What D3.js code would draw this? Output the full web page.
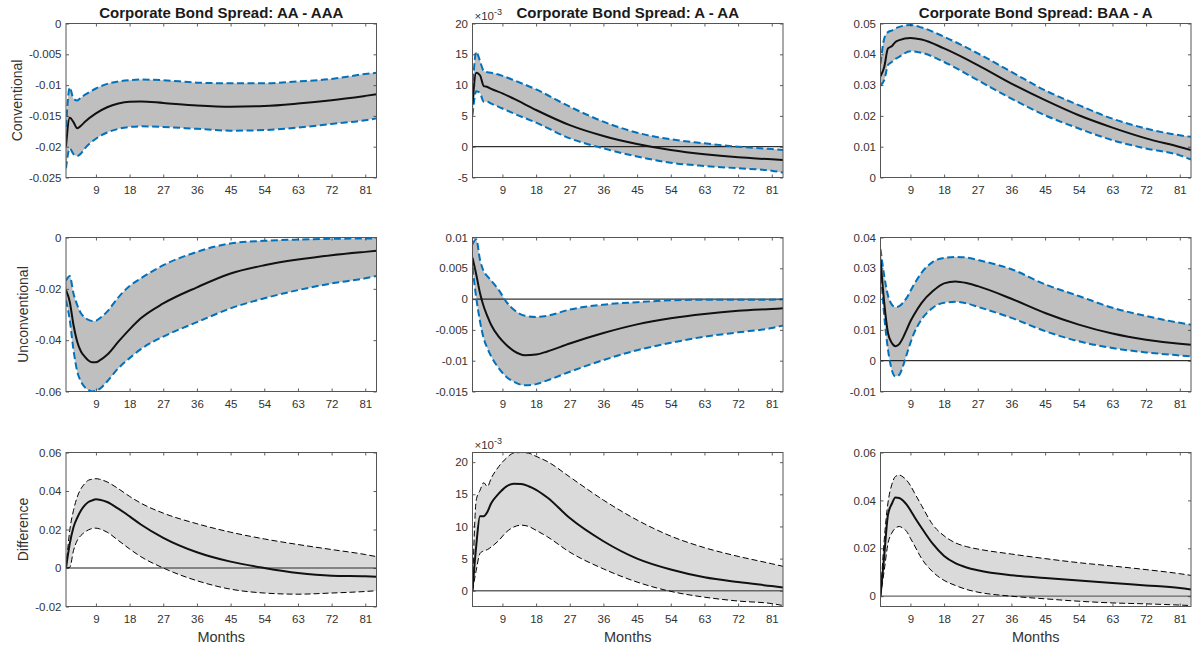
<!DOCTYPE html>
<html>
<head>
<meta charset="utf-8">
<script src="https://cdn.jsdelivr.net/npm/d3@7"></script>
<style>
  body { margin: 0; background: #fff; }
  svg { display: block; }
  text { font-family: "Liberation Sans", Arial, Helvetica, sans-serif; }
</style>
</head>
<body>
<div id="chart"></div>
<script>
// columns / rows
var titles = ["Corporate Bond Spread: AA - AAA", "Corporate Bond Spread: A - AA", "Corporate Bond Spread: BAA - A"];
var rowLabels = ["Conventional", "Unconventional", "Difference"];
var xTicks = [9, 18, 27, 36, 45, 54, 63, 72, 81];
var xLimits = [1, 84];

// Row 1: conventional
var convAAMonths = [1, 2, 3, 4, 5, 6, 9, 12, 15, 18, 21, 27, 36, 45, 54, 63, 72, 81, 84];
var convAAMean = [-0.0200, -0.0153, -0.0160, -0.0170, -0.0166, -0.0160, -0.0146, -0.0136, -0.0130, -0.0127, -0.01265, -0.0129, -0.0133, -0.0135, -0.0134, -0.0130, -0.01245, -0.01175, -0.0115];
var convAAHi = [-0.0168, -0.0104, -0.0122, -0.0125, -0.0120, -0.0116, -0.01055, -0.0098, -0.0094, -0.0092, -0.0091, -0.0092, -0.0096, -0.0097, -0.0097, -0.0094, -0.0090, -0.0082, -0.0080];
var convAALo = [-0.0235, -0.0203, -0.0212, -0.0215, -0.0211, -0.0203, -0.0187, -0.0177, -0.0171, -0.0168, -0.0167, -0.0168, -0.0171, -0.0174, -0.0173, -0.0169, -0.0163, -0.0157, -0.0154];
var convAATicks = [-0.025, -0.02, -0.015, -0.01, -0.005, 0];
var convAALimits = [-0.025, 0];

var convAMonths = [1, 2, 3, 4, 5, 6, 9, 12, 18, 27, 36, 45, 54, 63, 72, 81, 84];
var convAMean = [0.0069, 0.0120, 0.0116, 0.00985, 0.0097, 0.0094, 0.00866, 0.0078, 0.00596, 0.0035, 0.00174, 0.00044, -0.00054, -0.00124, -0.00173, -0.00205, -0.00216];
var convAHi = [0.0090, 0.0154, 0.0139, 0.0123, 0.0121, 0.0120, 0.0115, 0.0108, 0.0093, 0.0065, 0.00406, 0.00227, 0.0012, 0.00055, 0.0, -0.00038, -0.00054];
var convALo = [0.0051, 0.0090, 0.0087, 0.0073, 0.0073, 0.0070, 0.0062, 0.0054, 0.0039, 0.00136, -0.00027, -0.0016, -0.0026, -0.00313, -0.0035, -0.0039, -0.0042];
var convATicks = [-0.005, 0, 0.005, 0.01, 0.015, 0.02];
var convALimits = [-0.005, 0.02];

var convBMonths = [1, 2, 3, 4, 5, 6, 9, 12, 18, 27, 36, 45, 54, 63, 72, 81, 84];
var convBMean = [0.0329, 0.0359, 0.0419, 0.0426, 0.0440, 0.0446, 0.0453, 0.0448, 0.0419, 0.0365, 0.0305, 0.0251, 0.0202, 0.0162, 0.0127, 0.0099, 0.0089];
var convBHi = [0.0370, 0.0451, 0.0472, 0.0477, 0.0484, 0.0489, 0.0495, 0.0487, 0.0457, 0.0403, 0.0343, 0.0283, 0.0235, 0.0191, 0.0159, 0.0137, 0.0132];
var convBLo = [0.0300, 0.0316, 0.0365, 0.0375, 0.0385, 0.0392, 0.0410, 0.0405, 0.0375, 0.0316, 0.0256, 0.0202, 0.0159, 0.0121, 0.0094, 0.0072, 0.0058];
var convBTicks = [0, 0.01, 0.02, 0.03, 0.04, 0.05];
var convBLimits = [0, 0.05];

// Row 2: unconventional
var unconvAAMonths = [1, 2, 3, 4, 5, 6, 7, 8, 9, 10, 12, 15, 18, 21, 27, 36, 45, 54, 63, 72, 81, 84];
var unconvAAMean = [-0.0205, -0.0250, -0.0341, -0.0406, -0.0444, -0.0464, -0.0479, -0.0486, -0.0486, -0.0479, -0.0457, -0.0406, -0.0358, -0.0315, -0.0257, -0.0194, -0.0140, -0.0108, -0.0086, -0.0069, -0.0056, -0.0052];
var unconvAAHi = [-0.0168, -0.0150, -0.0218, -0.0263, -0.0295, -0.0311, -0.0321, -0.0325, -0.0324, -0.0315, -0.0289, -0.0233, -0.0189, -0.0159, -0.0108, -0.0056, -0.0023, -0.0013, -0.0008, -0.0005, -0.0004, -0.0004];
var unconvAALo = [-0.0244, -0.0321, -0.0438, -0.0522, -0.0561, -0.0583, -0.0594, -0.0600, -0.0597, -0.0590, -0.0561, -0.0509, -0.0470, -0.0435, -0.0386, -0.0330, -0.0276, -0.0237, -0.0205, -0.0179, -0.0159, -0.0150];
var unconvAATicks = [-0.06, -0.04, -0.02, 0];
var unconvAALimits = [-0.06, 0];

var unconvAMonths = [1, 2, 3, 4, 5, 6, 8, 10, 12, 15, 18, 21, 27, 36, 45, 54, 63, 72, 81, 84];
var unconvAMean = [0.0067, 0.0040, 0.0010, -0.0012, -0.0028, -0.0042, -0.0061, -0.0074, -0.0084, -0.0091, -0.0090, -0.0085, -0.0072, -0.0055, -0.0041, -0.0031, -0.0024, -0.0019, -0.0016, -0.0015];
var unconvAHi = [0.0089, 0.0097, 0.0064, 0.0045, 0.0037, 0.0030, 0.0015, -0.0004, -0.0017, -0.0027, -0.0029, -0.0027, -0.0017, -0.0009, -0.0005, -0.0002, -0.0001, -0.0001, -0.0001, 0.0000];
var unconvALo = [0.0051, 0.0002, -0.0036, -0.0064, -0.0080, -0.0093, -0.0112, -0.0126, -0.0134, -0.0140, -0.0138, -0.0132, -0.0118, -0.0099, -0.0083, -0.0071, -0.0061, -0.0054, -0.0047, -0.0043];
var unconvATicks = [-0.015, -0.01, -0.005, 0, 0.005, 0.01];
var unconvALimits = [-0.015, 0.01];

var unconvBMonths = [1, 2, 3, 4, 5, 6, 7, 8, 9, 10, 12, 15, 18, 21, 24, 27, 36, 45, 54, 63, 72, 81, 84];
var unconvBMean = [0.0329, 0.0188, 0.0090, 0.0058, 0.0047, 0.0054, 0.0074, 0.0101, 0.0128, 0.0150, 0.0188, 0.0226, 0.0251, 0.0257, 0.0252, 0.0242, 0.0201, 0.0155, 0.0117, 0.0088, 0.0068, 0.0055, 0.0052];
var unconvBHi = [0.0362, 0.0275, 0.0212, 0.0183, 0.0174, 0.0177, 0.0188, 0.0204, 0.0226, 0.0248, 0.0286, 0.0321, 0.0334, 0.0337, 0.0335, 0.0327, 0.0297, 0.0248, 0.0210, 0.0172, 0.0145, 0.0123, 0.0117];
var unconvBLo = [0.0308, 0.0145, 0.0036, -0.0029, -0.0051, -0.0046, -0.0018, 0.0020, 0.0058, 0.0090, 0.0134, 0.0172, 0.0188, 0.0191, 0.0186, 0.0175, 0.0139, 0.0096, 0.0063, 0.0041, 0.0027, 0.0017, 0.0014];
var unconvBTicks = [-0.01, 0, 0.01, 0.02, 0.03, 0.04];
var unconvBLimits = [-0.01, 0.04];

// Row 3: difference
var diffAAMonths = [1, 2, 3, 4, 5, 6, 7, 8, 9, 10, 12, 15, 18, 21, 27, 36, 45, 54, 63, 72, 81, 84];
var diffAAMean = [0, 0.0125, 0.0212, 0.0261, 0.0299, 0.0325, 0.0343, 0.0351, 0.0357, 0.0355, 0.0343, 0.0308, 0.0268, 0.0226, 0.0157, 0.0082, 0.0033, 0.0000, -0.0026, -0.0040, -0.0043, -0.0045];
var diffAAHi = [0, 0.0195, 0.0299, 0.0369, 0.0412, 0.0438, 0.0456, 0.0461, 0.0464, 0.0461, 0.0447, 0.0412, 0.0372, 0.0337, 0.0285, 0.0230, 0.0186, 0.0151, 0.0122, 0.0096, 0.0070, 0.0059];
var diffAALo = [0, 0.0003, 0.0090, 0.0143, 0.0169, 0.0186, 0.0198, 0.0205, 0.0207, 0.0203, 0.0186, 0.0143, 0.0099, 0.0059, 0.0000, -0.0066, -0.0110, -0.0130, -0.0136, -0.0130, -0.0122, -0.0118];
var diffAATicks = [-0.02, 0, 0.02, 0.04, 0.06];
var diffAALimits = [-0.02, 0.06];

var diffAMonths = [1, 2, 3, 4, 5, 6, 8, 10, 12, 14, 16, 18, 21, 27, 36, 45, 54, 63, 72, 81, 84];
var diffAMean = [0, 0.0070, 0.0116, 0.0116, 0.0123, 0.0136, 0.0151, 0.0162, 0.01665, 0.0166, 0.01625, 0.0157, 0.0145, 0.0113, 0.0077, 0.0050, 0.0033, 0.0021, 0.00135, 0.00073, 0.00052];
var diffAHi = [0, 0.0141, 0.0156, 0.0168, 0.0162, 0.0175, 0.0193, 0.0206, 0.0214, 0.0215, 0.0214, 0.0209, 0.0201, 0.0177, 0.0141, 0.0110, 0.0085, 0.0067, 0.00535, 0.0042, 0.0038];
var diffALo = [0, 0.0032, 0.0058, 0.0062, 0.0064, 0.0068, 0.0078, 0.0091, 0.0099, 0.0102, 0.0100, 0.0094, 0.0084, 0.0060, 0.0034, 0.00135, -0.0001, -0.0010, -0.0016, -0.0020, -0.0023];
var diffATicks = [0, 0.005, 0.01, 0.015, 0.02];
var diffALimits = [-0.00245, 0.0215];

var diffBMonths = [1, 2, 3, 4, 5, 6, 7, 8, 9, 10, 12, 15, 18, 21, 24, 27, 36, 45, 54, 63, 72, 81, 84];
var diffBMean = [0, 0.0170, 0.0340, 0.0385, 0.0412, 0.0410, 0.0400, 0.0382, 0.0359, 0.0333, 0.0285, 0.0218, 0.0168, 0.0138, 0.0120, 0.0108, 0.0087, 0.0076, 0.0066, 0.0055, 0.0045, 0.0034, 0.0028];
var diffBHi = [0, 0.0235, 0.0390, 0.0465, 0.0500, 0.0506, 0.0498, 0.0484, 0.0462, 0.0434, 0.0378, 0.0298, 0.0252, 0.0223, 0.0207, 0.0197, 0.0176, 0.0157, 0.0140, 0.0126, 0.0111, 0.0094, 0.0087];
var diffBLo = [0, 0.0108, 0.0220, 0.0263, 0.0284, 0.0291, 0.0284, 0.0270, 0.0242, 0.0214, 0.0157, 0.0101, 0.0066, 0.0045, 0.0028, 0.0017, 0.0000, -0.0011, -0.0021, -0.0028, -0.0032, -0.0037, -0.0039];
var diffBTicks = [0, 0.02, 0.04, 0.06];
var diffBLimits = [-0.0043, 0.06];

(function() {
    var width = 1200,
        height = 648;

    var colLeft = [66, 472.5, 880.5],
        rowTop = [23.5, 237.5, 452.5],
        axW = 310.5,
        axH = 154;

    var svg = d3.select("#chart")
        .append("svg")
        .attr("width", width)
        .attr("height", height);

    var panels = [
        {row: 0, col: 0, months: convAAMonths, mean: convAAMean, hi: convAAHi, lo: convAALo, ticks: convAATicks, lim: convAALimits},
        {row: 0, col: 1, months: convAMonths, mean: convAMean, hi: convAHi, lo: convALo, ticks: convATicks, lim: convALimits, exp: 3},
        {row: 0, col: 2, months: convBMonths, mean: convBMean, hi: convBHi, lo: convBLo, ticks: convBTicks, lim: convBLimits},
        {row: 1, col: 0, months: unconvAAMonths, mean: unconvAAMean, hi: unconvAAHi, lo: unconvAALo, ticks: unconvAATicks, lim: unconvAALimits},
        {row: 1, col: 1, months: unconvAMonths, mean: unconvAMean, hi: unconvAHi, lo: unconvALo, ticks: unconvATicks, lim: unconvALimits},
        {row: 1, col: 2, months: unconvBMonths, mean: unconvBMean, hi: unconvBHi, lo: unconvBLo, ticks: unconvBTicks, lim: unconvBLimits},
        {row: 2, col: 0, months: diffAAMonths, mean: diffAAMean, hi: diffAAHi, lo: diffAALo, ticks: diffAATicks, lim: diffAALimits},
        {row: 2, col: 1, months: diffAMonths, mean: diffAMean, hi: diffAHi, lo: diffALo, ticks: diffATicks, lim: diffALimits, exp: 3},
        {row: 2, col: 2, months: diffBMonths, mean: diffBMean, hi: diffBHi, lo: diffBLo, ticks: diffBTicks, lim: diffBLimits}
    ];

    var axisColor = "#333";

    panels.forEach(function(p, i) {
        var left = colLeft[p.col],
            top = rowTop[p.row],
            isDiff = p.row === 2;

        var x = d3.scaleLinear().domain(xLimits).range([0, axW]);
        var y = d3.scaleLinear().domain(p.lim).range([axH, 0]);

        var g = svg.append("g")
            .attr("transform", "translate(" + left + "," + top + ")");

        g.append("clipPath")
            .attr("id", "clip" + i)
            .append("rect")
            .attr("width", axW)
            .attr("height", axH);

        var plot = g.append("g").attr("clip-path", "url(#clip" + i + ")");

        var pts = p.months.map(function(m, k) {
            return {m: m, mean: p.mean[k], hi: p.hi[k], lo: p.lo[k]};
        });

        var area = d3.area()
            .curve(d3.curveMonotoneX)
            .x(function(d) { return x(d.m); })
            .y0(function(d) { return y(d.lo); })
            .y1(function(d) { return y(d.hi); });

        var line = function(key) {
            return d3.line()
                .curve(d3.curveMonotoneX)
                .x(function(d) { return x(d.m); })
                .y(function(d) { return y(d[key]); });
        };

        plot.append("path")
            .datum(pts)
            .attr("d", area)
            .attr("fill", isDiff ? "#dadada" : "#bfbfbf");

        plot.append("line")
            .attr("x1", 0)
            .attr("x2", axW)
            .attr("y1", y(0))
            .attr("y2", y(0))
            .attr("stroke", isDiff ? "#666" : "#000")
            .attr("stroke-width", isDiff ? 1.3 : 1);

        ["hi", "lo"].forEach(function(key) {
            plot.append("path")
                .datum(pts)
                .attr("d", line(key))
                .attr("fill", "none")
                .attr("stroke", isDiff ? "#000" : "#0072bd")
                .attr("stroke-width", isDiff ? 1 : 2)
                .attr("stroke-dasharray", isDiff ? "6,3" : "7,3.5");
        });

        plot.append("path")
            .datum(pts)
            .attr("d", line("mean"))
            .attr("fill", "none")
            .attr("stroke", "#111")
            .attr("stroke-width", 2);

        // axes, ticks inside on all four sides
        var fmtY = function(v) {
            var s = p.exp ? v * Math.pow(10, p.exp) : v;
            return String(+s.toFixed(6));
        };

        var yl = g.append("g")
            .call(d3.axisLeft(y).tickValues(p.ticks).tickSizeInner(-3).tickSizeOuter(0).tickPadding(4.5).tickFormat(fmtY));
        g.append("g")
            .attr("transform", "translate(" + axW + ",0)")
            .call(d3.axisRight(y).tickValues(p.ticks).tickSizeInner(-3).tickSizeOuter(0).tickFormat(""));
        g.append("g")
            .attr("transform", "translate(0," + axH + ")")
            .call(d3.axisBottom(x).tickValues(xTicks).tickSizeInner(-3).tickSizeOuter(0).tickPadding(8.5).tickFormat(d3.format("d")));
        g.append("g")
            .call(d3.axisTop(x).tickValues(xTicks).tickSizeInner(-3).tickSizeOuter(0).tickFormat(""));

        g.selectAll(".domain").remove();
        g.selectAll(".tick line").attr("stroke", axisColor).attr("stroke-width", 0.8);
        g.selectAll(".tick text")
            .attr("fill", axisColor)
            .style("font-size", "11.5px")
            .style("font-family", "'Liberation Sans', Arial, Helvetica, sans-serif");

        g.append("rect")
            .attr("width", axW)
            .attr("height", axH)
            .attr("fill", "none")
            .attr("stroke", "#555")
            .attr("stroke-width", 1);

        if (p.exp) {
            var et = g.append("text")
                .attr("x", 2)
                .attr("y", -3.5)
                .attr("fill", axisColor)
                .style("font-size", "11.5px");
            et.append("tspan").text("\u00d710");
            et.append("tspan")
                .attr("dy", -5)
                .style("font-size", "9px")
                .text("-" + p.exp);
        }

        if (p.row === 0) {
            g.append("text")
                .attr("x", axW / 2)
                .attr("y", -5.5)
                .attr("text-anchor", "middle")
                .attr("fill", "#1a1a1a")
                .style("font-size", "15px")
                .style("font-weight", "bold")
                .text(titles[p.col]);
        }

        if (p.col === 0) {
            var minX = d3.min(yl.selectAll(".tick text").nodes(), function(n) { return n.getBBox().x; });
            var lx = minX - 7;
            g.append("text")
                .attr("transform", "translate(" + lx + "," + (axH / 2) + ") rotate(-90)")
                .attr("text-anchor", "middle")
                .attr("fill", axisColor)
                .style("font-size", "14px")
                .text(rowLabels[p.row]);
        }

        if (p.row === 2) {
            g.append("text")
                .attr("x", axW / 2)
                .attr("y", axH + 35)
                .attr("text-anchor", "middle")
                .attr("fill", axisColor)
                .style("font-size", "14.5px")
                .text("Months");
        }
    });
})();
</script>
</body>
</html>
